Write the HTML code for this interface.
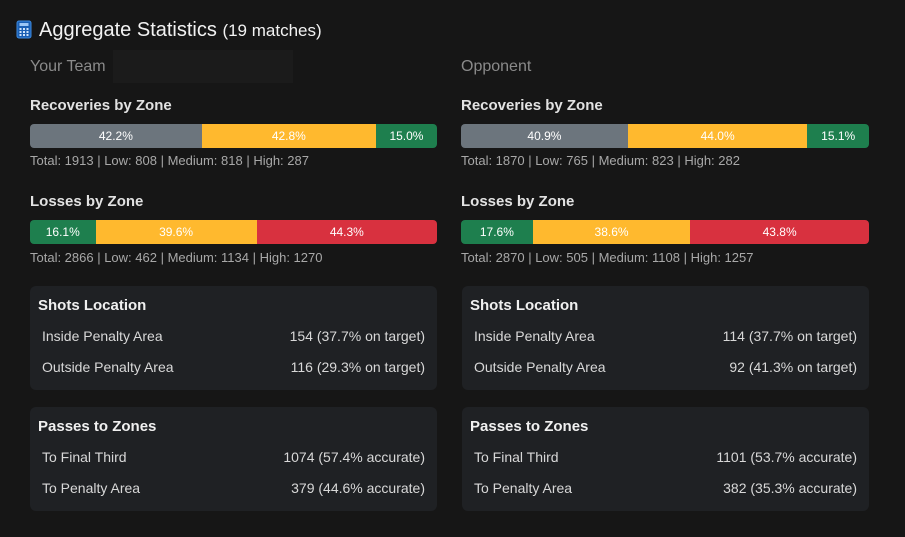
<!DOCTYPE html>
<html><head><meta charset="utf-8"><style>
body{margin:0;width:905px;height:537px;background:#161616;font-family:"Liberation Sans",sans-serif;position:relative;overflow:hidden;color:#e6e6e6}
.a{position:absolute;white-space:nowrap}
.h{font-weight:bold;font-size:15px;color:#e2e2e2}
.bar{position:absolute;height:24px;display:flex;border-radius:4px;overflow:hidden;font-size:12px;color:#fff;line-height:24px;text-align:center}
.bar div{height:100%}
.g{background:#6c757d}.y{background:#ffb92e}.gr{background:#1e7f4e}.r{background:#d8313f}
.st{font-size:13px;color:#a8a8a8}
.card{position:absolute;background:#1f2124;border-radius:6px;width:407px;height:104px}
.card .t{position:absolute;left:8px;top:11px;font-weight:bold;font-size:15px;color:#f0f0f0}
.row{position:absolute;left:12px;right:12px;font-size:14px;color:#d8d8d8;display:flex;justify-content:space-between}
</style></head><body>
<svg class="a" style="left:16px;top:20px" width="16" height="19" viewBox="0 0 16 19"><rect x="1" y="1" width="14" height="17" rx="2" fill="#1a5fb4" stroke="#3d8be0"/><rect x="3.5" y="3" width="9" height="3" fill="#9cc6f5"/><g fill="#cfe3fa"><rect x="3.5" y="8" width="2" height="2"/><rect x="7" y="8" width="2" height="2"/><rect x="10.5" y="8" width="2" height="2"/><rect x="3.5" y="11" width="2" height="2"/><rect x="7" y="11" width="2" height="2"/><rect x="10.5" y="11" width="2" height="2"/><rect x="3.5" y="14" width="2" height="2"/><rect x="7" y="14" width="2" height="2"/><rect x="10.5" y="14" width="2" height="2"/></g></svg>
<div class="a" style="left:39px;top:19px;font-size:20px;color:#f2f2f2">Aggregate Statistics <span style="font-size:17px">(19 matches)</span></div>

<div class="a" style="left:30px;top:58px;font-size:16px;color:#8a8a8a">Your Team</div>
<div class="a" style="left:113px;top:50px;width:180px;height:33px;background:#1b1b1b"></div>
<div class="a" style="left:461px;top:58px;font-size:16px;color:#8a8a8a">Opponent</div>

<div class="a h" style="left:30px;top:97px">Recoveries by Zone</div>
<div class="bar" style="left:30px;top:124px;width:407px"><div class="g" style="width:42.2%">42.2%</div><div class="y" style="width:42.8%">42.8%</div><div class="gr" style="width:15%">15.0%</div></div>
<div class="a st" style="left:30px;top:153px">Total: 1913 | Low: 808 | Medium: 818 | High: 287</div>
<div class="a h" style="left:30px;top:193px">Losses by Zone</div>
<div class="bar" style="left:30px;top:220px;width:407px"><div class="gr" style="width:16.1%">16.1%</div><div class="y" style="width:39.6%">39.6%</div><div class="r" style="width:44.3%">44.3%</div></div>
<div class="a st" style="left:30px;top:250px">Total: 2866 | Low: 462 | Medium: 1134 | High: 1270</div>

<div class="a h" style="left:461px;top:97px">Recoveries by Zone</div>
<div class="bar" style="left:461px;top:124px;width:408px"><div class="g" style="width:40.9%">40.9%</div><div class="y" style="width:44%">44.0%</div><div class="gr" style="width:15.1%">15.1%</div></div>
<div class="a st" style="left:461px;top:153px">Total: 1870 | Low: 765 | Medium: 823 | High: 282</div>
<div class="a h" style="left:461px;top:193px">Losses by Zone</div>
<div class="bar" style="left:461px;top:220px;width:408px"><div class="gr" style="width:17.6%">17.6%</div><div class="y" style="width:38.6%">38.6%</div><div class="r" style="width:43.8%">43.8%</div></div>
<div class="a st" style="left:461px;top:250px">Total: 2870 | Low: 505 | Medium: 1108 | High: 1257</div>

<div class="card" style="left:30px;top:286px"><div class="t">Shots Location</div>
<div class="row" style="top:42px"><span>Inside Penalty Area</span><span>154 (37.7% on target)</span></div>
<div class="row" style="top:73px"><span>Outside Penalty Area</span><span>116 (29.3% on target)</span></div></div>
<div class="card" style="left:30px;top:407px"><div class="t">Passes to Zones</div>
<div class="row" style="top:42px"><span>To Final Third</span><span>1074 (57.4% accurate)</span></div>
<div class="row" style="top:73px"><span>To Penalty Area</span><span>379 (44.6% accurate)</span></div></div>

<div class="card" style="left:462px;top:286px"><div class="t">Shots Location</div>
<div class="row" style="top:42px"><span>Inside Penalty Area</span><span>114 (37.7% on target)</span></div>
<div class="row" style="top:73px"><span>Outside Penalty Area</span><span>92 (41.3% on target)</span></div></div>
<div class="card" style="left:462px;top:407px"><div class="t">Passes to Zones</div>
<div class="row" style="top:42px"><span>To Final Third</span><span>1101 (53.7% accurate)</span></div>
<div class="row" style="top:73px"><span>To Penalty Area</span><span>382 (35.3% accurate)</span></div></div>
</body></html>
